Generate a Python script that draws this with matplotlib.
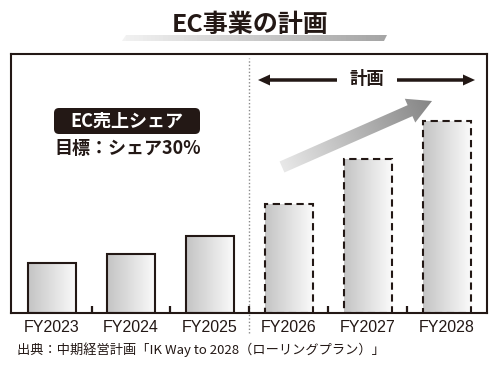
import numpy as np
import matplotlib.pyplot as plt
from matplotlib.patches import FancyArrow, FancyBboxPatch, Polygon
from matplotlib.colors import LinearSegmentedColormap

plt.rcParams["font.family"] = ["Noto Sans CJK JP", "DejaVu Sans"]

years = ["FY2023", "FY2024", "FY2025", "FY2026", "FY2027", "FY2028"]
values = [50, 59, 77, 109, 154, 192]
is_plan = [False, False, False, True, True, True]

title = "EC事業の計画"
badge_text = "EC売上シェア"
target_text = "目標：シェア30%"
plan_text = "計画"
source_text = "出典：中期経営計画「IK Way to 2028（ローリングプラン）」"

INK = "#231815"
bar_cmap = LinearSegmentedColormap.from_list("bar", ["#c4c4c4", "#fbfbfb"])
arrow_cmap = LinearSegmentedColormap.from_list("arr", ["#e8e8e8", "#858585"])
line_cmap = LinearSegmentedColormap.from_list("line", ["#f2f2f2", "#a5a5a5"])

fig = plt.figure(figsize=(5, 3.75), dpi=100)
ax = fig.add_axes([0.022, 0.1653, 0.952, 0.6907])

x = np.arange(len(years))
width = 0.61
bars = ax.bar(x, values, width=width, facecolor="none", edgecolor=INK,
              linewidth=1.5, zorder=3)
grad = np.linspace(0, 1, 64).reshape(1, -1)
for bar, plan in zip(bars, is_plan):
    if plan:
        bar.set_linestyle((0, (3.5, 2.2)))
    bx, by = bar.get_x(), bar.get_y()
    im = ax.imshow(grad, cmap=bar_cmap, aspect="auto", zorder=2,
                   extent=(bx, bx + bar.get_width(), by, by + bar.get_height()))
    im.set_clip_path(bar)

ax.set_xlim(-0.52, 5.51)
ax.set_ylim(0, 259)
ax.set_xticks(x)
ax.set_xticklabels(years, fontsize=11.5, color=INK, family=["Liberation Sans"])
ax.set_xticks(x[:-1] + 0.5, minor=True)
ax.tick_params(axis="x", which="major", length=0, pad=5)
ax.tick_params(axis="x", which="minor", direction="in", length=5, width=1.6, color=INK)
ax.set_yticks([])
for s in ax.spines.values():
    s.set_linewidth(1.5)
    s.set_color(INK)

# divider between actual and plan
ax.plot([2.5, 2.5], [-0.077, 0.985], transform=ax.get_xaxis_transform(),
        color="#8a8a8a", linestyle=(0, (1, 1.5)), linewidth=1, clip_on=False, zorder=1)

# overlay in pixel coordinates for decorations
ov = fig.add_axes([0, 0, 1, 1])
ov.set_xlim(0, 500)
ov.set_ylim(375, 0)
ov.axis("off")

# title with gradient underline
under = Polygon([(126, 35), (387, 35), (384, 41), (122, 41)], closed=True,
                facecolor="none", edgecolor="none")
ov.add_patch(under)
uim = ov.imshow(grad, cmap=line_cmap, aspect="auto", extent=(122, 387, 41, 35), zorder=1)
uim.set_clip_path(under)
ov.text(250, 25, title, ha="center", va="center", fontsize=18, fontweight="bold",
        color=INK, zorder=3)

# badge
ov.add_patch(FancyBboxPatch((57, 111), 140, 20, boxstyle="round,pad=3,rounding_size=5",
                            facecolor=INK, edgecolor="none"))
ov.text(127, 121, badge_text, ha="center", va="center", fontsize=13,
        fontweight="bold", color="white")
ov.text(128, 149, target_text, ha="center", va="center", fontsize=13,
        fontweight="bold", color=INK)

# plan arrows
ov.text(367, 79, plan_text, ha="center", va="center", fontsize=12.5,
        fontweight="bold", color=INK)
ov.add_patch(FancyArrow(337, 80, -79, 0, width=3.5, head_width=11, head_length=12,
                        length_includes_head=True, color=INK, linewidth=0))
ov.add_patch(FancyArrow(397, 80, 78, 0, width=3.5, head_width=11, head_length=12,
                        length_includes_head=True, color=INK, linewidth=0))

# growth arrow with gradient
sx, sy, dx, dy = 282, 167, 150, -66
garrow = FancyArrow(sx, sy, dx, dy, width=12, head_width=26, head_length=24,
                    length_includes_head=True, facecolor="none", edgecolor="none")
ov.add_patch(garrow)
X, Y = np.meshgrid(np.linspace(265, 445, 200), np.linspace(80, 185, 120))
proj = np.clip(((X - sx) * dx + (Y - sy) * dy) / (dx * dx + dy * dy), 0, 1)
aim = ov.imshow(proj, cmap=arrow_cmap, aspect="auto", extent=(265, 445, 185, 80),
                origin="upper", zorder=2)
aim.set_clip_path(garrow)

ov.text(17, 350, source_text, ha="left", va="center", fontsize=9.5, color=INK)

ov.set_xlim(0, 500)
ov.set_ylim(375, 0)

fig.savefig("out.png", dpi=100)
